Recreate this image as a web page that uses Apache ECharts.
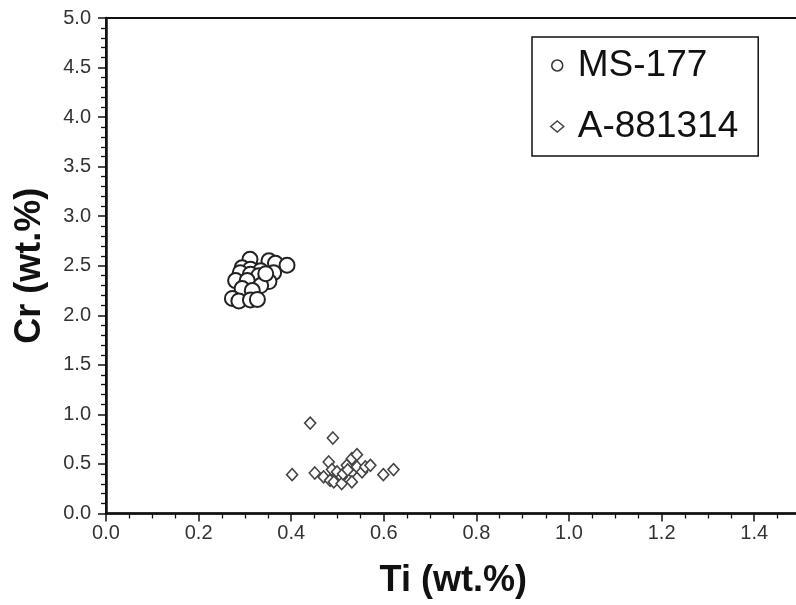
<!DOCTYPE html>
<html><head><meta charset="utf-8">
<script src="https://cdn.jsdelivr.net/npm/echarts@6/dist/echarts.min.js"></script>
<style>html,body{margin:0;padding:0;background:#fff}#c{width:796px;height:605px}</style>
</head><body><div id="c"></div>
<script>
const msTi = [0.311,0.352,0.366,0.391,0.294,0.312,0.334,0.362,0.290,0.312,0.330,0.280,0.305,0.352,0.334,0.294,0.316,0.273,0.287,0.312,0.327,0.345];
const msCr = [2.565,2.55,2.525,2.505,2.48,2.465,2.45,2.43,2.43,2.415,2.40,2.35,2.35,2.34,2.30,2.27,2.25,2.17,2.145,2.155,2.16,2.42];
const aTi = [0.441,0.490,0.402,0.451,0.470,0.481,0.488,0.499,0.484,0.492,0.509,0.509,0.520,0.531,0.542,0.531,0.531,0.542,0.553,0.560,0.571,0.599,0.621,0.512,0.522];
const aCr = [0.912,0.762,0.392,0.409,0.369,0.520,0.443,0.42,0.335,0.319,0.369,0.302,0.486,0.553,0.594,0.42,0.319,0.47,0.42,0.47,0.486,0.392,0.443,0.40,0.44];
const seriesNames = ['MS-177','A-881314'];
const xTitle = 'Ti (wt.%)', yTitle = 'Cr (wt.%)';

const zip = (a,b) => a.map((v,i)=>[v,b[i]]);
const font = 'Liberation Sans, Arial, sans-serif';
const chart = echarts.init(document.getElementById('c'));
chart.setOption({
  animation:false,
  backgroundColor:'#fff',
  grid:{left:106, top:18, width:694.5, height:495.5, outerBoundsMode:'none', containLabel:false,
    show:true, borderColor:'#111', borderWidth:2, backgroundColor:'transparent'},
  xAxis:{type:'value', min:0, max:1.5, interval:0.2,
    name:xTitle, nameLocation:'middle', nameGap:50,
    nameTextStyle:{fontFamily:font, fontSize:36, fontWeight:'bold', color:'#111'},
    axisLine:{lineStyle:{color:'#111', width:2.5}},
    axisTick:{length:8, lineStyle:{color:'#111', width:1.5}},
    minorTick:{show:true, splitNumber:4, length:5, lineStyle:{color:'#111', width:1.3}},
    axisLabel:{fontFamily:font, fontSize:20, color:'#333', margin:10,
      formatter:v=> v>1.45 ? '' : v.toFixed(1)},
    splitLine:{show:false}},
  yAxis:{type:'value', min:0, max:5, interval:0.5,
    name:yTitle, nameLocation:'middle', nameGap:58, nameRotate:90,
    nameTextStyle:{fontFamily:font, fontSize:36, fontWeight:'bold', color:'#111'},
    axisLine:{show:true, lineStyle:{color:'#111', width:2.5}},
    axisTick:{show:true, length:8, lineStyle:{color:'#111', width:1.5}},
    minorTick:{show:true, splitNumber:5, length:5, lineStyle:{color:'#111', width:1.3}},
    axisLabel:{fontFamily:font, fontSize:20, color:'#333', margin:15, formatter:v=>v.toFixed(1)},
    splitLine:{show:false}},
  legend:{orient:'vertical', left:532, top:37, padding:[10,20,11,18], itemGap:24,
    borderColor:'#111', borderWidth:1.5, backgroundColor:'#fff',
    itemWidth:13, itemHeight:11,
    textStyle:{fontFamily:font, fontSize:37, color:'#111', padding:[0,0,0,9]},
    data:[
      {name:seriesNames[0], icon:'circle', itemStyle:{color:'#fff', borderColor:'#333', borderWidth:1.5}},
      {name:seriesNames[1], icon:'diamond', itemStyle:{color:'#fff', borderColor:'#444', borderWidth:1.5}}
    ]},
  series:[
    {name:seriesNames[0], type:'scatter', symbol:'circle', symbolSize:15,
      itemStyle:{color:'#fff', borderColor:'#222', borderWidth:2, opacity:1},
      data:zip(msTi, msCr)},
    {name:seriesNames[1], type:'scatter', symbol:'diamond', symbolSize:[11,12],
      itemStyle:{color:'#fff', borderColor:'#444', borderWidth:1.6, opacity:1},
      data:zip(aTi, aCr)}
  ]
});
</script></body></html>
